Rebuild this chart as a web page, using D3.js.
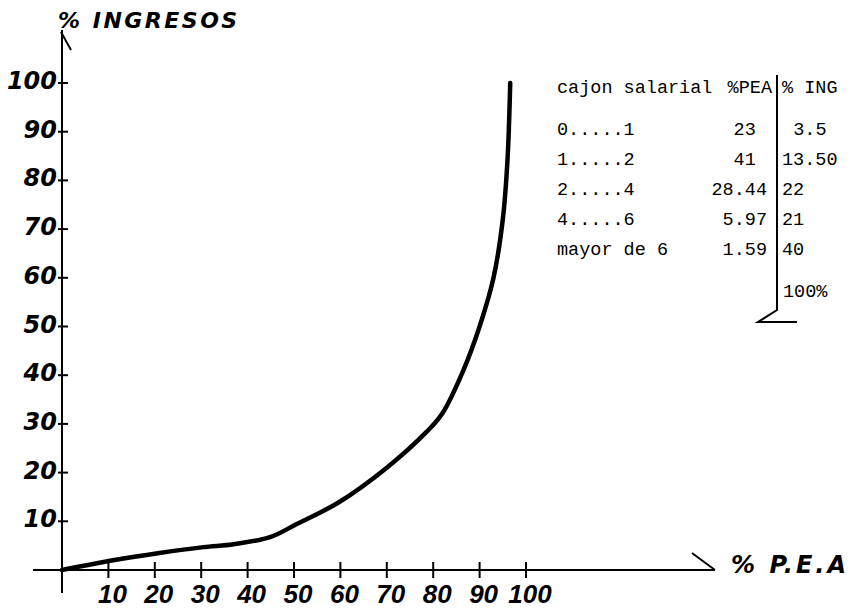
<!DOCTYPE html>
<html>
<head>
<meta charset="utf-8">
<script src="https://cdn.jsdelivr.net/npm/d3@7"></script>
<style>
  body { margin: 0; background: #fff; }
  svg { display: block; }
</style>
</head>
<body>
<div id="chart"></div>
<script>
// ===== data =====
// curve: cumulative % PEA vs cumulative % ingresos
var pea = [0, 11, 21, 30.5, 37, 45, 50.5, 59.5, 70, 78.5, 82, 86.5, 90, 93, 95, 96, 96.6]
var ing = [0, 2, 3.5, 4.7, 5.3, 6.8, 9.4, 13.8, 21, 28.3, 32.2, 41, 50, 60, 72, 84, 100]

var xTicks = [10, 20, 30, 40, 50, 60, 70, 80, 90, 100]
var yTicks = [10, 20, 30, 40, 50, 60, 70, 80, 90, 100]

// table in the corner
var cajon = ["0.....1", "1.....2", "2.....4", "4.....6", "mayor de 6"]
var peaPct = ["23", "41", "28.44", "5.97", "1.59"]
var ingPct = ["3.5", "13.50", "22", "21", "40"]
var ingTotal = "100%"

var W = 853, H = 611
var labelFont = "DejaVu Sans"
var monoFont = "Liberation Mono"

var svg = d3.select("#chart")
    .append("svg")
    .attr("width", W)
    .attr("height", H)

var x = d3.scaleLinear().domain([0, 100]).range([62, 526])
var y = d3.scaleLinear().domain([0, 100]).range([570, 83])

// ---- axes (hand drawn look) ----
var axes = svg.append("g")
    .attr("stroke", "#000")
    .attr("stroke-width", 2)
    .attr("fill", "none")

// y axis with small arrow stroke at top
axes.append("line").attr("x1", x(0)).attr("x2", x(0)).attr("y1", 30).attr("y2", 593)
axes.append("line").attr("x1", x(0) - 1).attr("y1", 32).attr("x2", x(0) + 9).attr("y2", 50)

// x axis with arrow stroke at right
axes.append("line").attr("x1", 33).attr("x2", 715).attr("y1", y(0)).attr("y2", y(0))
axes.append("line").attr("x1", 692).attr("y1", y(0) - 17).attr("x2", 715).attr("y2", y(0))

axes.selectAll(".xt")
    .data(xTicks)
    .enter()
    .append("line")
    .attr("x1", function(d){ return x(d) })
    .attr("x2", function(d){ return x(d) })
    .attr("y1", y(0) - 8)
    .attr("y2", y(0) + 8)

axes.selectAll(".yt")
    .data(yTicks)
    .enter()
    .append("line")
    .attr("x1", x(0) - 4)
    .attr("x2", x(0) + 6)
    .attr("y1", function(d){ return y(d) })
    .attr("y2", function(d){ return y(d) })

// tick labels
svg.selectAll(".xl")
    .data(xTicks)
    .enter()
    .append("text")
    .text(function(d){ return d })
    .attr("x", function(d){ return x(d) + 4 })
    .attr("y", 603)
    .attr("text-anchor", "middle")
    .attr("font-family", "Liberation Sans")
    .attr("font-size", "26px")
    .attr("font-weight", "bold")
    .attr("font-style", "italic")

svg.selectAll(".yl")
    .data(yTicks)
    .enter()
    .append("text")
    .text(function(d){ return d })
    .attr("x", x(0) - 5)
    .attr("y", function(d){ return y(d) + 6 })
    .attr("text-anchor", "end")
    .attr("font-family", labelFont)
    .attr("font-size", "24px")
    .attr("font-weight", "bold")
    .attr("font-style", "italic")

// axis titles
svg.append("text")
    .text("% INGRESOS")
    .attr("x", 58)
    .attr("y", 28)
    .attr("font-family", labelFont)
    .attr("font-size", "22px")
    .attr("font-weight", "bold")
    .attr("font-style", "italic")
    .attr("letter-spacing", "2.5px")

svg.append("text")
    .text("% P.E.A")
    .attr("x", 731)
    .attr("y", 573)
    .attr("font-family", labelFont)
    .attr("font-size", "24px")
    .attr("font-weight", "bold")
    .attr("font-style", "italic")
    .attr("letter-spacing", "3px")

// ---- the curve ----
var line = d3.line()
    .x(function(d){ return x(d[0]) })
    .y(function(d){ return y(d[1]) })
    .curve(d3.curveCatmullRom.alpha(0.5))

svg.append("path")
    .datum(d3.zip(pea, ing))
    .attr("d", line)
    .attr("fill", "none")
    .attr("stroke", "#000")
    .attr("stroke-width", 4.5)
    .attr("stroke-linejoin", "round")
    .attr("stroke-linecap", "round")

// ---- table ----
var cw = 11.2          // monospace cell width
var tx = 557, sepX = 777
var rowY = function(i){ return 135 + i * 30 }

var table = svg.append("g")
    .attr("font-family", monoFont)
    .attr("font-size", "18.5px")
    .attr("fill", "#000")

table.append("text").attr("x", tx).attr("y", 93).text("cajon salarial")
table.append("text").attr("x", sepX - 5).attr("y", 93).attr("text-anchor", "end").text("%PEA")
table.append("text").attr("x", sepX + 5).attr("y", 93).attr("xml:space", "preserve").text("% ING")

table.selectAll(".c")
    .data(cajon)
    .enter()
    .append("text")
    .attr("x", tx)
    .attr("y", function(d, i){ return rowY(i) })
    .text(function(d){ return d })

table.selectAll(".p")
    .data(peaPct)
    .enter()
    .append("text")
    .attr("x", function(d){ return sepX - 10 - (d.indexOf(".") < 0 ? cw : 0) })
    .attr("y", function(d, i){ return rowY(i) })
    .attr("text-anchor", "end")
    .text(function(d){ return d })

table.selectAll(".g")
    .data(ingPct)
    .enter()
    .append("text")
    .attr("x", function(d){ return sepX + 5 + (d.length === 3 ? cw : 0) })
    .attr("y", function(d, i){ return rowY(i) })
    .text(function(d){ return d })

table.append("text").attr("x", sepX + 6).attr("y", 297).text(ingTotal)

// separator with the little foot at the bottom
svg.append("path")
    .attr("d", "M" + sepX + ",75 L" + sepX + ",310 L758,322 L797,322")
    .attr("fill", "none")
    .attr("stroke", "#000")
    .attr("stroke-width", 2)
</script>
</body>
</html>
